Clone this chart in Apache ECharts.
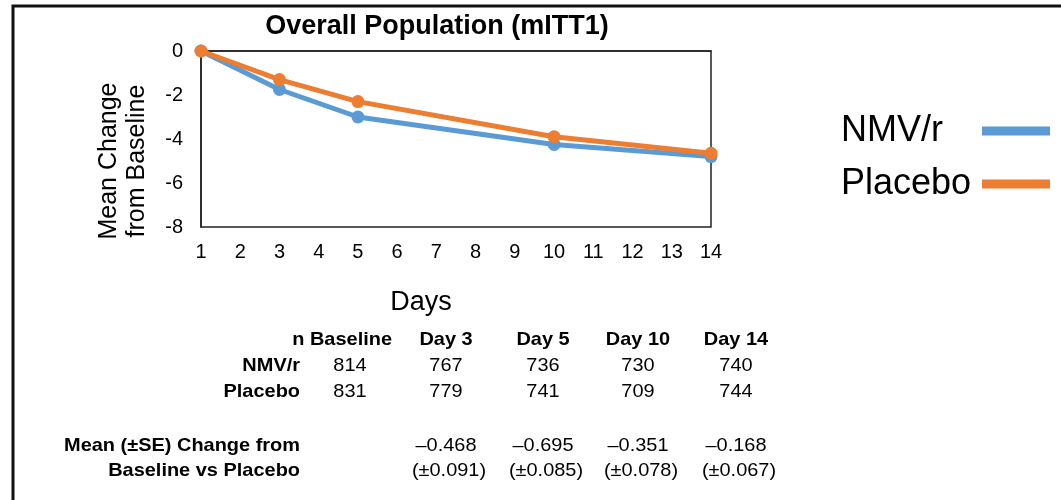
<!DOCTYPE html>
<html>
<head>
<meta charset="utf-8">
<script src="https://cdn.jsdelivr.net/npm/echarts@6/dist/echarts.min.js"></script>
<style>
html,body{margin:0;padding:0;background:#fff;}
#chart{width:1061px;height:500px;}
</style>
</head>
<body>
<div id="chart"></div>
<script>
// ---- data ----
const days = [1, 3, 5, 10, 14];
const nmvValues = [0, -1.75, -3.0, -4.25, -4.8];
const placeboValues = [0, -1.3, -2.3, -3.9, -4.65];
const seriesNames = ['NMV/r', 'Placebo'];
const yTicks = [0, -2, -4, -6, -8];

const tableHeader = ['Day 3', 'Day 5', 'Day 10', 'Day 14'];
const baselineHeader = 'n Baseline';
const rowLabels = ['NMV/r', 'Placebo'];
const nBaseline = ['814', '831'];
const nNmv = ['767', '736', '730', '740'];
const nPlacebo = ['779', '741', '709', '744'];
const meanLabel = ['Mean (\u00B1SE) Change from', 'Baseline vs Placebo'];
const meanDiff = ['\u20130.468', '\u20130.695', '\u20130.351', '\u20130.168'];
const meanSE = ['(\u00B10.091)', '(\u00B10.085)', '(\u00B10.078)', '(\u00B10.067)'];

// ---- layout ----
const FONT = '"Liberation Sans", Arial, sans-serif';
const colX = [446, 543, 638, 736];
const labelRight = 300;
const baseX = 350;
const rowY = [340, 366, 392];
const meanY = [446, 471];
const TS = 1.05; // slight horizontal stretch of table text

const chart = echarts.init(document.getElementById('chart'));

const graphics = [];
function txt(text, x, y, align, bold) {
  graphics.push({
    type: 'text', x: x, y: y, scaleX: TS,
    style: {
      text: text, x: 0, y: 0, fill: '#000',
      font: (bold ? 'bold ' : '') + '19px ' + FONT,
      textAlign: align, textVerticalAlign: 'middle'
    }
  });
}
// frame
graphics.push({
  type: 'polyline',
  shape: { points: [[13, 500], [13, 6], [1061, 6]] },
  style: { stroke: '#111', lineWidth: 3, fill: null }
});
// y axis name
graphics.push({
  type: 'text', x: 123, y: 161, rotation: Math.PI / 2,
  style: {
    text: 'Mean Change\nfrom Baseline', fill: '#000',
    font: '25px ' + FONT, lineHeight: 28,
    textAlign: 'center', textVerticalAlign: 'middle'
  }
});
// table
txt(baselineHeader, 392, rowY[0], 'right', true);
tableHeader.forEach((h, i) => txt(h, colX[i], rowY[0], 'center', true));
rowLabels.forEach((l, i) => txt(l, labelRight, rowY[i + 1], 'right', true));
nBaseline.forEach((v, i) => txt(v, baseX, rowY[i + 1], 'center', false));
nNmv.forEach((v, i) => txt(v, colX[i], rowY[1], 'center', false));
nPlacebo.forEach((v, i) => txt(v, colX[i], rowY[2], 'center', false));
meanLabel.forEach((l, i) => txt(l, labelRight, meanY[i], 'right', true));
meanDiff.forEach((v, i) => txt(v, colX[i], meanY[0], 'center', false));
meanSE.forEach((v, i) => txt(v, colX[i] + 3, meanY[1], 'center', false));

const option = {
  backgroundColor: '#fff',
  animation: false,
  textStyle: { fontFamily: FONT },
  title: {
    text: 'Overall Population (mITT1)',
    left: 432, top: 8, textAlign: 'center',
    textStyle: { fontSize: 27, fontWeight: 'bold', color: '#000', fontFamily: FONT }
  },
  legend: {
    orient: 'vertical', left: 836, top: 108,
    align: 'right', icon: 'rect',
    itemWidth: 68, itemHeight: 9, itemGap: 17,
    data: seriesNames,
    formatter: name => '{a|' + name + '}',
    textStyle: {
      fontSize: 36, color: '#000', fontFamily: FONT,
      rich: { a: { fontSize: 36, width: 136, align: 'left', lineHeight: 36, color: '#000', fontFamily: FONT } }
    }
  },
  grid: {
    left: 201, right: 350, top: 51, bottom: 273,
    show: true, borderColor: '#222', borderWidth: 1.5
  },
  xAxis: {
    type: 'value', min: 1, max: 14, interval: 1,
    name: 'Days', nameLocation: 'middle', nameGap: 62,
    nameTextStyle: { fontSize: 27, color: '#000', fontFamily: FONT, padding: [0, 70, 0, 0] },
    axisLine: { show: true, lineStyle: { color: '#222', width: 1.5 } },
    axisTick: { show: false },
    splitLine: { show: false },
    axisLabel: { fontSize: 20, color: '#000', margin: 15, fontFamily: FONT }
  },
  yAxis: {
    type: 'value', min: yTicks[yTicks.length - 1], max: yTicks[0], interval: 2,
    axisLine: { show: true, lineStyle: { color: '#222', width: 1.5 } },
    axisTick: { show: false },
    splitLine: { show: false },
    axisLabel: { fontSize: 20, color: '#000', margin: 18, fontFamily: FONT }
  },
  series: [
    {
      name: seriesNames[0], type: 'line',
      data: days.map((d, i) => [d, nmvValues[i]]),
      symbol: 'circle', symbolSize: 13,
      lineStyle: { color: '#5B9BD5', width: 5 },
      itemStyle: { color: '#5B9BD5' }
    },
    {
      name: seriesNames[1], type: 'line',
      data: days.map((d, i) => [d, placeboValues[i]]),
      symbol: 'circle', symbolSize: 13,
      lineStyle: { color: '#ED7D31', width: 5 },
      itemStyle: { color: '#ED7D31' }
    }
  ],
  graphic: graphics
};
chart.setOption(option);
</script>
</body>
</html>
